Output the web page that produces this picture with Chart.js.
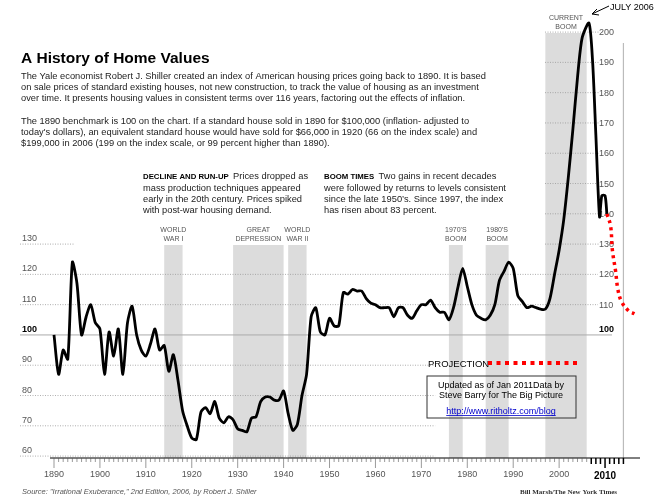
<!DOCTYPE html>
<html><head><meta charset="utf-8">
<script src="https://cdn.jsdelivr.net/npm/chart.js@4/dist/chart.umd.min.js"></script>
<style>html,body{margin:0;padding:0;background:#fff}#c{display:block}</style>
</head><body>
<div style="width:654px;height:500px"><canvas id="c" width="654" height="500"></canvas></div>
<script>
const years = [1890,1891,1892,1893,1894,1895,1896,1897,1898,1899,1900,1901,1902,1903,1904,1905,1906,1907,1908,1909,1910,1911,1912,1913,1914,1915,1916,1917,1918,1919,1920,1921,1922,1923,1924,1925,1926,1927,1928,1929,1930,1931,1932,1933,1934,1935,1936,1937,1938,1939,1940,1941,1942,1943,1944,1945,1946,1947,1948,1949,1950,1951,1952,1953,1954,1955,1956,1957,1958,1959,1960,1961,1962,1963,1964,1965,1966,1967,1968,1969,1970,1971,1972,1973,1974,1975,1976,1977,1978,1979,1980,1981,1982,1983,1984,1985,1986,1987,1988,1989,1990,1991,1992,1993,1994,1995,1996,1997,1998,1999,2000,2001,2002,2003,2004,2005,2006.5,2007.3,2008,2008.8,2009.3,2010,2010.4];
const indexValues = [100,87,95,92,124,117,100,106,110,104,102,87,101,93,102,87,104,109.5,100,95,93,97,102,95,96.5,88,93.5,85,75,70,66,65.5,74.5,76,74,78,72.5,71,73,72,69,68.5,68,72.5,73,78,79.5,79.5,78.5,78.5,81.5,74,68.5,70.5,80,87,106,109,101,100,105.5,103,103,114,113.5,115,114.5,114.5,112,110.5,110,109,109,109,106,109,109,106.5,105.5,108,110,110,111.5,109,107.5,107.5,105,109,116,122,116,110,106.5,105.5,105,106.5,110,118,121,124,122,113,111,109,109.5,109,108.5,108.5,112,120,128,138,152,168,185,198,203,190,166,139,146,146,140];
const projYears = [2010.4,2011.2,2011.6,2012.3,2012.8,2013.6,2015.1,2016.4];
const projValues = [140,136,128,121,115,111,108,107];
const bands = [[1914,1918,130],[1929,1940,130],[1941,1945,130],[1976,1979,130],[1984,1989,130],[1997,2006,201]];
const bandLabels = [["WORLD","WAR I"],["GREAT","DEPRESSION"],["WORLD","WAR II"],["1970'S","BOOM"],["1980'S","BOOM"],["CURRENT","BOOM"]];
const leftTicks = [60,70,80,90,100,110,120,130];
const rightTicks = [100,110,120,130,140,150,160,170,180,190,200];
const xLabels = [1890,1900,1910,1920,1930,1940,1950,1960,1970,1980,1990,2000,2010];

const F = '"Liberation Sans", Arial, sans-serif';
const deco = {
  id:'deco',
  beforeDatasetsDraw(ch){
    const c=ch.ctx,x=ch.scales.x,y=ch.scales.y;
    c.save();
    c.fillStyle='#dcdcdc';
    bands.forEach((b,i)=>{
      const x0=x.getPixelForValue(b[0]),x1=x.getPixelForValue(b[1]);
      const yt=i==5?33:245;
      c.fillRect(x0,yt,x1-x0,458-yt);
      c.fillStyle='#555';c.font='7px '+F;c.textAlign='center';
      const cx=(x0+x1)/2;
      c.fillText(bandLabels[i][0],cx,yt-13);c.fillText(bandLabels[i][1],cx,yt-4);
      c.fillStyle='#dcdcdc';
    });
    c.strokeStyle='#999';c.lineWidth=0.8;c.setLineDash([1,1.5]);
    leftTicks.forEach(v=>{
      if(v===100)return;
      const py=y.getPixelForValue(v);
      c.beginPath();
      if(v===130){c.moveTo(20,py);c.lineTo(75,py);}
      else if(v>=110){c.moveTo(20,py);c.lineTo(598,py);}
      else {c.moveTo(20,py);c.lineTo(x.getPixelForValue(1973),py);}
      c.stroke();
    });
    rightTicks.forEach(v=>{
      if(v<=120)return;
      const py=y.getPixelForValue(v);
      c.beginPath();c.moveTo(545,py);c.lineTo(600,py);c.stroke();
    });
    c.setLineDash([]);
    c.strokeStyle='#aaa';c.lineWidth=1;
    const p100=y.getPixelForValue(100);
    c.beginPath();c.moveTo(20,p100);c.lineTo(612,p100);c.stroke();
    c.strokeStyle='#bbb';c.lineWidth=1.2;
    c.beginPath();c.moveTo(x.getPixelForValue(2014),43);c.lineTo(x.getPixelForValue(2014),458);c.stroke();
    c.textAlign='left';
    leftTicks.forEach(v=>{
      c.font=(v===100?'bold ':'')+'9px '+F;c.fillStyle=v===100?'#000':'#555';
      c.fillText(String(v),22,y.getPixelForValue(v)-3);
    });
    rightTicks.forEach(v=>{
      c.font=(v===100?'bold ':'')+'9px '+F;c.fillStyle=v===100?'#000':'#555';
      c.fillText(String(v),599,y.getPixelForValue(v)+ (v===100?-3:3));
    });
    c.strokeStyle='#000';c.lineWidth=1;
    c.beginPath();c.moveTo(50,458);c.lineTo(640,458);c.stroke();
    for(let yr=1890;yr<=2014;yr++){
      const px=x.getPixelForValue(yr);
      const major=yr%10===0;
      c.lineWidth=yr>2006?1.5:0.6;
      c.strokeStyle=yr>2006?'#000':'#555';
      c.beginPath();c.moveTo(px,458);c.lineTo(px,major?468:(yr>2006?464:462));c.stroke();
    }
    c.textAlign='center';
    xLabels.forEach(v=>{
      c.font=(v===2010?'bold 10px ':'9px ')+F;c.fillStyle=v===2010?'#000':'#555';
      c.fillText(String(v),x.getPixelForValue(v),v===2010?479:477);
    });
    c.restore();
  },
  afterDatasetsDraw(ch){
    const c=ch.ctx;
    c.save();
    c.textAlign='left';c.fillStyle='#000';
    c.font='bold 15.5px '+F;c.fillText('A History of Home Values',21,63);
    c.font='9.3px '+F;c.fillStyle='#222';
    const p=["The Yale economist Robert J. Shiller created an index of American housing prices going back to 1890. It is based",
    "on sale prices of standard existing houses, not new construction, to track the value of housing as an investment",
    "over time. It presents housing values in consistent terms over 116 years, factoring out the effects of inflation.",
    "",
    "The 1890 benchmark is 100 on the chart. If a standard house sold in 1890 for $100,000 (inflation- adjusted to",
    "today's dollars), an equivalent standard house would have sold for $66,000 in 1920 (66 on the index scale) and",
    "$199,000 in 2006 (199 on the index scale, or 99 percent higher than 1890)."];
    p.forEach((t,i)=>c.fillText(t,21,79+i*11.2));
    const block=(x0,head,lines)=>{
      c.font='bold 7.8px '+F;c.fillStyle='#000';c.fillText(head,x0,179);
      const w=c.measureText(head+'  ').width;
      c.font='9.3px '+F;c.fillStyle='#222';
      c.fillText(lines[0],x0+w,179);
      lines.slice(1).forEach((t,i)=>c.fillText(t,x0,190.5+i*11.2));
    };
    block(143,'DECLINE AND RUN-UP',['Prices dropped as','mass production techniques appeared','early in the 20th century. Prices spiked','with post-war housing demand.']);
    block(324,'BOOM TIMES',['Two gains in recent decades','were followed by returns to levels consistent','since the late 1950\u2019s. Since 1997, the index','has risen about 83 percent.']);
    c.font='9px '+F;c.fillStyle='#000';c.fillText('JULY 2006',610,10);
    c.strokeStyle='#000';c.lineWidth=1;
    c.beginPath();c.moveTo(609,6);c.lineTo(592,14);c.stroke();
    c.beginPath();c.moveTo(592,14);c.lineTo(597,9);c.moveTo(592,14);c.lineTo(599,15);c.stroke();
    c.font='9.5px '+F;c.fillText('PROJECTION',428,367);
    c.fillStyle='#f00';
    for(let i=0;i<11;i++)c.fillRect(488+i*8.5,361,4,4);
    c.strokeStyle='#333';c.lineWidth=1;c.strokeRect(427,376,149,42);
    c.fillStyle='#000';c.textAlign='center';c.font='9px '+F;
    c.fillText('Updated as of Jan 2011Data by',501,388);
    c.fillText('Steve Barry for The Big Picture',501,398);
    c.fillStyle='#00c';c.fillText('http://www.ritholtz.com/blog',501,414);
    const tw=c.measureText('http://www.ritholtz.com/blog').width;
    c.fillRect(501-tw/2,415,tw,0.8);
    c.textAlign='left';c.fillStyle='#555';c.font='italic 7.5px '+F;
    c.fillText('Source: "Irrational Exuberance," 2nd Edition, 2006, by Robert J. Shiller',22,494);
    c.font='bold 7px "Liberation Serif", serif';c.fillStyle='#333';
    c.fillText('Bill Marsh/The New York Times',520,494);
    c.restore();
  }
};
new Chart(document.getElementById('c'),{
  type:'line',
  data:{datasets:[
    {data:years.map((v,i)=>({x:v,y:indexValues[i]})),borderColor:'#000',borderWidth:2.8,pointRadius:0,tension:0.25,fill:false},
    {data:projYears.map((v,i)=>({x:v,y:projValues[i]})),borderColor:'#f00',borderWidth:3.5,borderDash:[3,4],pointRadius:0,tension:0.4,fill:false}
  ]},
  options:{responsive:false,animation:false,events:[],
    layout:{padding:0},
    plugins:{legend:{display:false},tooltip:{enabled:false}},
    scales:{
      x:{type:'linear',display:false,min:1878.24,max:2020.66},
      y:{type:'linear',display:false,min:45.5,max:210.6}
    }},
  plugins:[deco]
});
</script>
</body></html>
